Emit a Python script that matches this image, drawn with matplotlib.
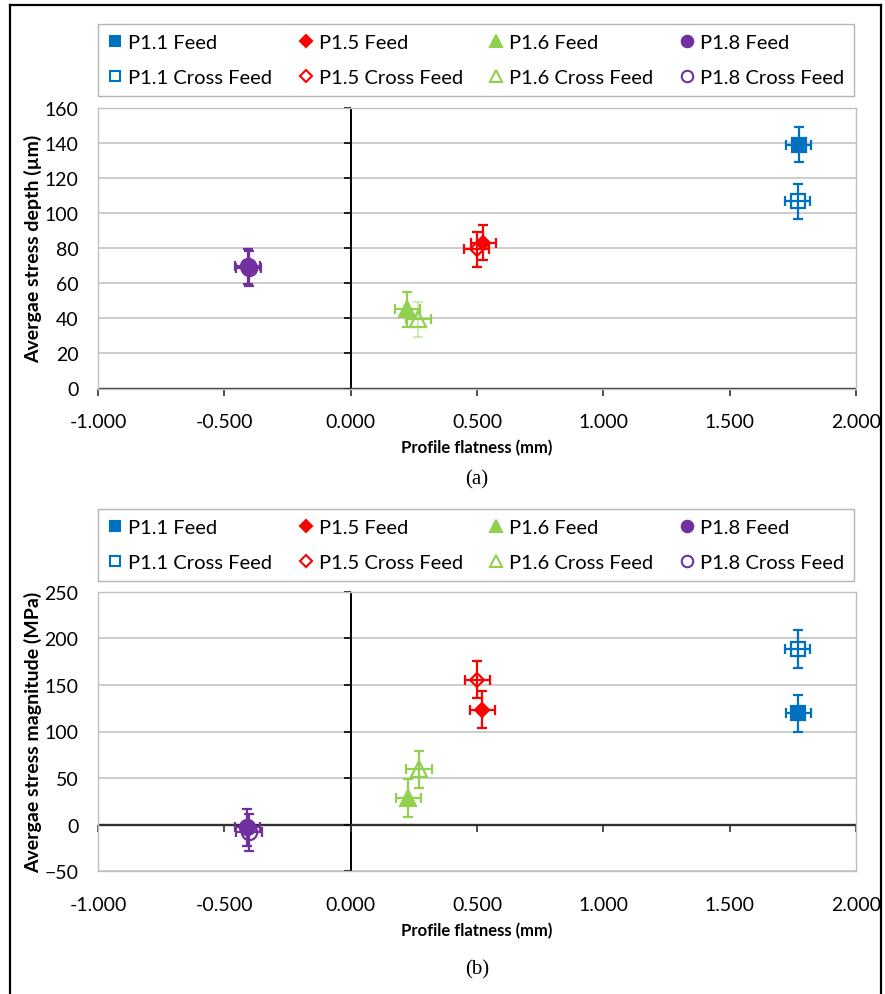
import matplotlib
matplotlib.use('Agg')
import matplotlib.pyplot as plt
from matplotlib.lines import Line2D
from matplotlib.markers import TICKLEFT, TICKDOWN

plt.rcParams['font.family'] = ['Lato', 'DejaVu Sans']

# series, in the order they are drawn
labels = ['P1.1 Feed', 'P1.1 Cross Feed', 'P1.5 Feed', 'P1.5 Cross Feed',
          'P1.6 Feed', 'P1.6 Cross Feed', 'P1.8 Feed', 'P1.8 Cross Feed']
colors = ['#0070C0', '#0070C0', '#FF0000', '#FF0000',
          '#92D050', '#92D050', '#7030A0', '#7030A0']
markers = ['s', 's', 'D', 'D', '^', '^', 'o', 'o']
msizes = [10.5, 10.5, 7.5, 7.5, 11, 11, 11, 11]
filled = [True, False, True, False, True, False, True, False]

# profile flatness (mm)
flat_a = [1.773, 1.769, 0.525, 0.499, 0.224, 0.268, -0.408, -0.403]
flat_b = [1.771, 1.769, 0.521, 0.501, 0.228, 0.270, -0.409, -0.402]
flat_err = [0.05, 0.05, 0.05, 0.05, 0.05, 0.05, 0.05, 0.05]

# (a) average stress depth (um)
depth = [139.0, 106.8, 83.2, 79.4, 45.3, 39.6, 69.8, 68.6]
depth_err = [10, 10, 10, 10, 10, 10, 10, 10]
depth_yerr_alpha = [1, 1, 1, 1, 1, 0.4, 1, 1]

# (b) average stress magnitude (MPa)
stress = [119.4, 188.5, 123.5, 155.5, 28.7, 59.5, -3.0, -8.2]
stress_err = [20, 20, 20, 20, 20, 20, 20, 20]
stress_yerr_alpha = [1, 1, 1, 1, 1, 1, 1, 1]

xticks = [-1.0, -0.5, 0.0, 0.5, 1.0, 1.5, 2.0]
xticklabels = ['-1.000', '-0.500', '0.000', '0.500', '1.000', '1.500', '2.000']
depth_ticks = [0, 20, 40, 60, 80, 100, 120, 140, 160]
stress_ticks = [-50, 0, 50, 100, 150, 200, 250]

W, H = 885, 995
fig = plt.figure(figsize=(W / 100, H / 100), dpi=100)


def px(x0, y0, x1, y1):
    # pixel box -> figure fraction rect
    return [x0 / W, 1 - y1 / H, (x1 - x0) / W, (y1 - y0) / H]


def panel(ax, xs, ys, yerr, alphas, yticks, ylabel):
    for i in range(len(labels)):
        c = colors[i]
        mfc = c if filled[i] else 'none'
        ax.errorbar(xs[i], ys[i], xerr=flat_err[i], fmt='none', ecolor=c,
                    elinewidth=1.6, capsize=3.5, capthick=1.6, zorder=3)
        ax.errorbar(xs[i], ys[i], yerr=yerr[i], fmt='none', ecolor=c,
                    elinewidth=1.6, capsize=3.5, capthick=1.6, alpha=alphas[i], zorder=3)
        ax.plot(xs[i], ys[i], ls='none', marker=markers[i], ms=msizes[i],
                color=c, mfc=mfc, mec=c, mew=1.6, zorder=4)

    ax.set_xlim(xticks[0], xticks[-1])
    ax.set_ylim(yticks[0], yticks[-1])
    ax.set_xticks(xticks)
    ax.set_xticklabels(xticklabels)
    ax.set_yticks(yticks)
    ax.grid(axis='y', color='#c8c8c8', lw=1.3, zorder=0.5)
    ax.set_axisbelow(True)
    for s in ax.spines.values():
        s.set_color('#c0c0c0')
        s.set_linewidth(1.0)
    ax.tick_params(axis='both', length=0, labelsize=14)
    ax.tick_params(axis='x', pad=18)
    ax.tick_params(axis='y', pad=14)
    ax.set_xlabel('Profile flatness (mm)', fontsize=12, fontweight='bold', labelpad=6)
    ax.set_ylabel(ylabel, fontsize=14, fontweight='bold', labelpad=2)

    # axes crossing at zero, with their own tick marks
    ax.axvline(0, color='black', lw=1.4, zorder=1)
    ax.axhline(0, color='#303030', lw=1.7, zorder=1)
    ax.plot([0] * len(yticks), yticks, ls='none', marker=TICKLEFT, ms=5,
            mew=1.2, color='black', clip_on=False, zorder=1)
    ax.plot(xticks, [0] * len(xticks), ls='none', marker=TICKDOWN, ms=5,
            mew=1.2, color='#303030', clip_on=False, zorder=1)


def legend(top, bottom):
    handles = []
    for i in range(len(labels)):
        c = colors[i]
        handles.append(Line2D([], [], ls='none', marker=markers[i], ms=msizes[i] * 0.75,
                              color=c, mfc=c if filled[i] else 'none', mec=c, mew=1.5))
    box = px(98, top, 854, bottom)
    leg = fig.legend(handles, labels, ncol=4, loc='upper left', bbox_to_anchor=box,
                     mode='expand', borderaxespad=0, fontsize=14.5, frameon=True,
                     fancybox=False, edgecolor='#a0a0a0', handlelength=0.7,
                     handletextpad=0.3, labelspacing=0.9, borderpad=0.5)
    leg.get_frame().set_linewidth(1.0)


ax1 = fig.add_axes(px(98, 109, 856, 389.5))
panel(ax1, flat_a, depth, depth_err, depth_yerr_alpha, depth_ticks,
      'Avergae stress depth (\u00b5m)')
legend(25, 96)

ax2 = fig.add_axes(px(98, 592.7, 856, 872.3))
panel(ax2, flat_b, stress, stress_err, stress_yerr_alpha, stress_ticks,
      'Avergae stress magnitude (MPa)')
legend(510, 579)

fig.text(477 / W, 1 - 480 / H, '(a)', family='Liberation Serif', fontsize=15,
         ha='center', va='center')
fig.text(477 / W, 1 - 970 / H, '(b)', family='Liberation Serif', fontsize=15,
         ha='center', va='center')

# page frame
for fx, fy in [([10 / W, 10 / W], [0, 1 - 6 / H]),
               ([10 / W, 881 / W], [1 - 6 / H, 1 - 6 / H]),
               ([881 / W, 881 / W], [1 - 6 / H, 0])]:
    fig.add_artist(Line2D(fx, fy, color='black', lw=1.6))

fig.savefig('out.png', dpi=100)
